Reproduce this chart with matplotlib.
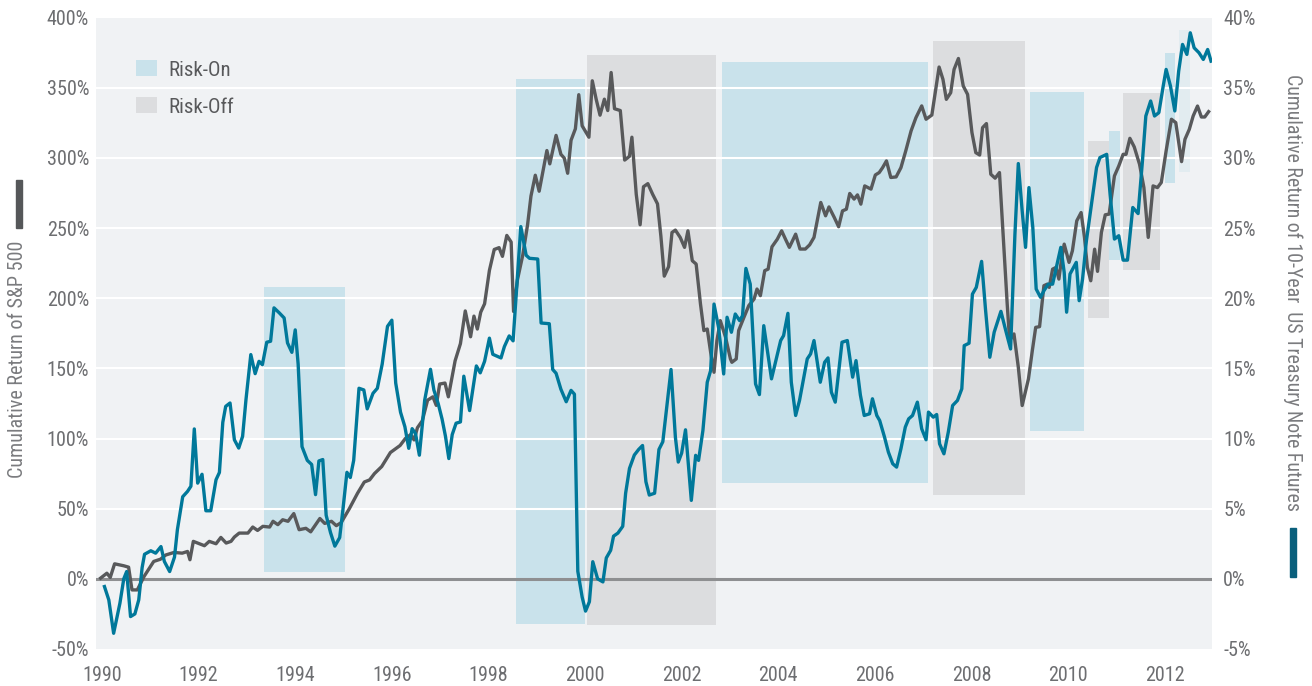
import matplotlib
matplotlib.use('Agg')
import matplotlib.pyplot as plt
import matplotlib.font_manager as fm
from matplotlib.patches import Patch, Rectangle

# S&P 500 cumulative return (left axis, %)
sp_years = [1989.97, 1990.10, 1990.17, 1990.26, 1990.45, 1990.55, 1990.62, 1990.73, 1990.87, 1991.07,
            1991.21, 1991.32, 1991.49, 1991.66, 1991.77, 1991.82, 1991.89, 1992.12, 1992.22, 1992.36,
            1992.46, 1992.57, 1992.67, 1992.74, 1992.84, 1993.02, 1993.12, 1993.22, 1993.33, 1993.47,
            1993.54, 1993.64, 1993.74, 1993.85, 1993.97, 1994.08, 1994.22, 1994.32, 1994.51, 1994.61,
            1994.75, 1994.85, 1994.95, 1995.12, 1995.29, 1995.43, 1995.54, 1995.64, 1995.79, 1995.97,
            1996.17, 1996.28, 1996.39, 1996.46, 1996.53, 1996.63, 1996.74, 1996.85, 1996.92, 1996.99,
            1997.10, 1997.17, 1997.31, 1997.42, 1997.52, 1997.63, 1997.70, 1997.77, 1997.84, 1997.92,
            1998.02, 1998.12, 1998.22, 1998.29, 1998.38, 1998.47, 1998.52, 1998.60, 1998.71, 1998.81,
            1998.88, 1998.97, 1999.05, 1999.12, 1999.21, 1999.27, 1999.40, 1999.50, 1999.57, 1999.64,
            1999.71, 1999.80, 1999.87, 1999.94, 2000.08, 2000.15, 2000.23, 2000.31, 2000.40, 2000.47,
            2000.54, 2000.61, 2000.73, 2000.82, 2000.92, 2000.97, 2001.06, 2001.14, 2001.21, 2001.30,
            2001.40, 2001.50, 2001.57, 2001.64, 2001.73, 2001.80, 2001.87, 2001.97, 2002.06, 2002.13,
            2002.22, 2002.30, 2002.39, 2002.46, 2002.53, 2002.60, 2002.67, 2002.73, 2002.80, 2002.91,
            2003.01, 2003.04, 2003.13, 2003.18, 2003.29, 2003.39, 2003.50, 2003.56, 2003.63, 2003.72,
            2003.79, 2003.87, 2003.98, 2004.07, 2004.15, 2004.23, 2004.36, 2004.45, 2004.56, 2004.65,
            2004.74, 2004.88, 2004.98, 2005.05, 2005.16, 2005.25, 2005.33, 2005.41, 2005.48, 2005.57,
            2005.64, 2005.71, 2005.79, 2005.92, 2006.01, 2006.09, 2006.16, 2006.24, 2006.33, 2006.44,
            2006.54, 2006.64, 2006.75, 2006.85, 2006.97, 2007.06, 2007.18, 2007.33, 2007.41, 2007.48,
            2007.57, 2007.64, 2007.73, 2007.83, 2007.92, 2008.01, 2008.09, 2008.17, 2008.23, 2008.31,
            2008.40, 2008.49, 2008.58, 2008.64, 2008.74, 2008.79, 2008.88, 2008.97, 2009.05, 2009.18,
            2009.26, 2009.33, 2009.41, 2009.50, 2009.57, 2009.61, 2009.68, 2009.75, 2009.81, 2009.86,
            2009.92, 2010.02, 2010.09, 2010.18, 2010.27, 2010.34, 2010.40, 2010.47, 2010.55, 2010.61,
            2010.69, 2010.77, 2010.85, 2010.96, 2011.05, 2011.14, 2011.20, 2011.28, 2011.37, 2011.48,
            2011.57, 2011.66, 2011.76, 2011.85, 2011.93, 2012.03, 2012.14, 2012.23, 2012.35, 2012.42,
            2012.51, 2012.59, 2012.68, 2012.76, 2012.83, 2012.91]
sp_values = [0.5, 4, 1, 10.7, 9.3, 8.3, -7.9, -7.9, 1.7, 12.4,
             14, 17, 18.8, 18.3, 19.5, 13.6, 26.7, 23.6, 26.7, 25,
             29.5, 25.5, 26.7, 29.8, 32.6, 32.6, 36.9, 34.5, 37.4, 36.9,
             41, 38.6, 42.1, 41, 46.5, 35, 36, 33.5, 43, 39.5,
             41, 37.9, 40, 50, 61, 69, 70.5, 75, 80, 90,
             95, 100, 102.8, 99, 107.7, 112.6, 127.3, 129.7, 123.6, 138.8,
             139.5, 129.7, 155.4, 167.6, 190.9, 172.5, 187.2, 178, 190, 196,
             219.8, 234.7, 236, 229.8, 244.7, 240, 190.5, 213, 230.6, 252.3,
             272.7, 287.6, 276.2, 289, 305.2, 295.7, 316, 302.5, 299.8, 289,
             312.5, 320.7, 345, 322.8, 314.7, 354.9, 341.8, 330.4, 341.8, 333.7,
             360.8, 335, 333.7, 298.4, 301.1, 314.7, 274, 252.3, 279.4, 281.6,
             274, 267.2, 244.2, 215.7, 222.5, 246.8, 248.5, 243.3, 236.2, 248,
             226.7, 224.3, 195.8, 176.9, 178, 161.5, 147.2, 169.8, 184, 172,
             156.7, 154.3, 156.7, 176.9, 186.4, 194.7, 199.4, 206.5, 201.8, 219.6,
             220.7, 236.6, 242, 248, 242, 236.2, 245.6, 235, 235, 238,
             243.3, 268.2, 258.7, 265, 257.5, 250.9, 262.2, 263.4, 274.6, 270.6,
             273.6, 267, 280, 277.7, 287.8, 289.5, 293, 297.8, 286, 286.4,
             293, 305, 319.2, 328.6, 337, 327.5, 330.5, 364.7, 355.9, 341.7,
             346.4, 363, 370.8, 351.2, 345.2, 318, 303.7, 302, 321.5, 324.4,
             288.3, 285.5, 289.5, 254, 195.8, 169.8, 174.5, 150.8, 123.5, 142.5,
             162.6, 179.2, 179.7, 208.9, 210, 207.7, 220.7, 221.9, 213.6, 226.7,
             238.5, 225.5, 233.8, 255.1, 261, 243.3, 221.9, 212.4, 234.9, 219.1,
             246.8, 259.4, 259.9, 287.1, 294.2, 302.5, 302.5, 313.9, 307.8, 295.4,
             278.8, 243.3, 280, 278.8, 282.4, 304.9, 327.5, 325.1, 297.3, 313.2,
             320.3, 329.8, 336.9, 329.1, 329.1, 332.9]

# 10-Year US Treasury note futures cumulative return (right axis, %)
tn_years = [1990.05, 1990.14, 1990.24, 1990.37, 1990.45, 1990.51, 1990.59, 1990.68, 1990.76, 1990.83,
            1990.88, 1991.01, 1991.11, 1991.22, 1991.29, 1991.40, 1991.50, 1991.56, 1991.67, 1991.77,
            1991.84, 1991.91, 1991.98, 1992.07, 1992.15, 1992.25, 1992.36, 1992.43, 1992.50, 1992.56,
            1992.65, 1992.74, 1992.83, 1992.91, 1992.98, 1993.08, 1993.17, 1993.25, 1993.32, 1993.41,
            1993.49, 1993.56, 1993.67, 1993.77, 1993.84, 1993.93, 1994.00, 1994.06, 1994.14, 1994.25,
            1994.34, 1994.42, 1994.49, 1994.57, 1994.64, 1994.73, 1994.82, 1994.92, 1994.99, 1995.07,
            1995.14, 1995.21, 1995.32, 1995.42, 1995.49, 1995.61, 1995.70, 1995.80, 1995.91, 1996.00,
            1996.08, 1996.18, 1996.27, 1996.35, 1996.42, 1996.49, 1996.57, 1996.68, 1996.80, 1996.87,
            1996.96, 1997.04, 1997.11, 1997.18, 1997.25, 1997.33, 1997.42, 1997.49, 1997.61, 1997.75,
            1997.83, 1997.92, 1998.02, 1998.09, 1998.26, 1998.33, 1998.43, 1998.51, 1998.67, 1998.78,
            1998.85, 1999.02, 1999.09, 1999.26, 1999.33, 1999.40, 1999.50, 1999.61, 1999.71, 1999.78,
            1999.85, 1999.94, 2000.01, 2000.09, 2000.16, 2000.26, 2000.37, 2000.44, 2000.53, 2000.59,
            2000.68, 2000.78, 2000.84, 2000.92, 2001.02, 2001.11, 2001.19, 2001.26, 2001.33, 2001.44,
            2001.53, 2001.61, 2001.78, 2001.87, 2001.93, 2002.00, 2002.08, 2002.20, 2002.29, 2002.35,
            2002.44, 2002.53, 2002.60, 2002.67, 2002.77, 2002.87, 2002.94, 2003.03, 2003.11, 2003.20,
            2003.26, 2003.33, 2003.42, 2003.53, 2003.61, 2003.70, 2003.86, 2004.05, 2004.11, 2004.20,
            2004.27, 2004.36, 2004.44, 2004.60, 2004.67, 2004.74, 2004.87, 2004.96, 2005.03, 2005.10,
            2005.18, 2005.32, 2005.43, 2005.54, 2005.61, 2005.70, 2005.78, 2005.89, 2005.95, 2006.04,
            2006.10, 2006.20, 2006.28, 2006.37, 2006.45, 2006.54, 2006.63, 2006.70, 2006.78, 2006.88,
            2006.97, 2007.06, 2007.11, 2007.21, 2007.28, 2007.34, 2007.43, 2007.52, 2007.61, 2007.71,
            2007.80, 2007.85, 2007.95, 2008.02, 2008.10, 2008.21, 2008.29, 2008.38, 2008.47, 2008.61,
            2008.71, 2008.81, 2008.90, 2008.97, 2009.05, 2009.12, 2009.19, 2009.27, 2009.34, 2009.43,
            2009.50, 2009.59, 2009.68, 2009.75, 2009.85, 2009.92, 2009.97, 2010.04, 2010.17, 2010.23,
            2010.30, 2010.38, 2010.47, 2010.59, 2010.66, 2010.80, 2010.87, 2010.96, 2011.05, 2011.14,
            2011.23, 2011.34, 2011.45, 2011.54, 2011.61, 2011.71, 2011.79, 2011.88, 2011.97, 2012.03,
            2012.12, 2012.21, 2012.29, 2012.37, 2012.46, 2012.53, 2012.61, 2012.71, 2012.80, 2012.89,
            2012.96]
tn_values = [-0.55, -1.5, -3.88, -1.74, 0.0, 0.52, -2.69, -2.5, -1.5, 0.8,
             1.75, 2.0, 1.83, 2.3, 1.24, 0.52, 1.55, 3.5, 5.85, 6.23,
             6.6, 10.68, 6.82, 7.45, 4.85, 4.85, 7.06, 7.58, 11.15, 12.29,
             12.53, 9.91, 9.32, 10.15, 12.77, 15.98, 14.62, 15.5, 15.26, 16.86,
             16.93, 19.31, 18.95, 18.59, 16.81, 16.14, 17.74, 15.3, 9.42, 8.44,
             8.15, 6.0, 8.4, 8.5, 4.53, 3.3, 2.33, 2.94, 5.02, 7.59,
             7.22, 8.44, 13.58, 13.46, 12.11, 13.22, 13.58, 15.3, 17.99, 18.43,
             13.95, 11.87, 10.84, 9.3, 10.7, 10.35, 8.81, 12.73, 14.93, 13.46,
             12.48, 11.38, 10.16, 8.57, 10.28, 11.09, 11.18, 14.44, 11.99, 15.17,
             14.68, 15.5, 17.15, 16.0, 15.74, 16.55, 17.31, 16.96, 25.1, 23.06,
             22.84, 22.79, 18.23, 18.18, 14.92, 14.65, 13.51, 12.62, 13.43, 13.16,
             0.54, -1.3, -2.3, -1.63, 1.22, 0.0, -0.22, 1.49, 2.03, 3.04,
             3.26, 3.74, 6.1, 7.87, 8.82, 9.22, 9.5, 6.92, 5.97, 6.1,
             9.22, 9.77, 14.92, 10.1, 8.32, 8.96, 10.62, 5.59, 8.8, 8.44,
             10.57, 14.01, 14.84, 19.58, 17.8, 14.6, 18.64, 17.57, 18.87, 18.4,
             18.75, 22.12, 21.0, 13.89, 13.13, 18.04, 14.25, 16.98, 17.33, 18.92,
             14.01, 11.64, 12.71, 15.67, 16.03, 16.98, 14.01, 15.43, 15.74, 13.3,
             12.59, 16.86, 16.98, 14.37, 15.55, 13.1, 11.64, 11.76, 12.83, 11.64,
             11.28, 10.1, 9.03, 8.2, 7.96, 9.27, 10.81, 11.4, 11.64, 12.59,
             10.69, 9.91, 11.88, 11.52, 11.71, 9.62, 8.91, 10.45, 12.35, 12.71,
             13.54, 16.62, 16.79, 20.29, 20.77, 22.62, 19.23, 15.79, 17.57, 19.06,
             17.69, 16.38, 24.56, 29.59, 26.22, 23.62, 27.88, 25.04, 20.65, 20.06,
             20.53, 21.0, 21.0, 22.07, 23.62, 21.84, 19.0, 21.72, 22.55, 19.82,
             21.36, 24.09, 26.34, 29.31, 30.02, 30.25, 27.41, 24.21, 24.45, 22.71,
             22.71, 26.46, 26.03, 29.78, 32.98, 34.05, 32.98, 33.22, 35.12, 36.3,
             35.12, 33.34, 36.18, 38.08, 37.37, 38.91, 37.84, 37.49, 37.01, 37.72,
             36.89]

# regimes: start, end, low, high (left axis units)
on_start = [1993.35, 1998.57, 2002.84, 2009.21, 2010.84, 2012.01]
on_end = [1995.04, 2000.00, 2007.09, 2010.34, 2011.08, 2012.22]
on_low = [5, -32, 68, 105, 227, 282]
on_high = [208, 356, 368, 347, 319, 375]
off_start = [2000.04, 2007.20, 2010.41, 2011.14]
off_end = [2002.72, 2009.10, 2010.84, 2011.90]
off_low = [-33, 60, 186, 220]
off_high = [373, 383, 312, 346]
faint_start, faint_end, faint_low, faint_high = 2012.30, 2012.53, 290, 391

x_ticks = [1990, 1992, 1994, 1996, 1998, 2000, 2002, 2004, 2006, 2008, 2010, 2012]
left_ticks = [-50, 0, 50, 100, 150, 200, 250, 300, 350, 400]
right_ticks = [-5, 0, 5, 10, 15, 20, 25, 30, 35, 40]

ON_COL = '#c9e2eb'
OFF_COL = '#dcdddf'
SP_COL = '#58595b'
TN_COL = '#00789a'
TXT = '#6d6e71'

installed = {f.name for f in fm.fontManager.ttflist}
font = next((f for f in ['Liberation Sans Narrow', 'Roboto Condensed', 'Roboto'] if f in installed), 'DejaVu Sans')
plt.rcParams['font.family'] = [font, 'DejaVu Sans']

W, H = 1312, 686
fig = plt.figure(figsize=(W / 100, H / 100), dpi=100)
ax = fig.add_axes([96 / W, 37 / H, 1116 / W, 631.5 / H])
ax.set_facecolor('#f0f2f4')
for s in ax.spines.values():
    s.set_visible(False)

for x0, x1, lo, hi in zip(on_start, on_end, on_low, on_high):
    ax.bar(x0, hi - lo, width=x1 - x0, bottom=lo, align='edge', color=ON_COL, linewidth=0, zorder=1)
for x0, x1, lo, hi in zip(off_start, off_end, off_low, off_high):
    ax.bar(x0, hi - lo, width=x1 - x0, bottom=lo, align='edge', color=OFF_COL, linewidth=0, zorder=1)
ax.bar(faint_start, faint_high - faint_low, width=faint_end - faint_start, bottom=faint_low,
       align='edge', color=ON_COL, alpha=0.35, linewidth=0, zorder=1)

for v in left_ticks[1:-1]:
    if v == 0:
        ax.axhline(v, color='#8e8f91', lw=2.2, zorder=2)
    else:
        ax.axhline(v, color='white', lw=1.5, zorder=2)

ax.plot(sp_years, sp_values, color=SP_COL, lw=2.4, zorder=3)

ax2 = ax.twinx()
for s in ax2.spines.values():
    s.set_visible(False)
ax2.plot(tn_years, tn_values, color=TN_COL, lw=2.4)

ax.set_xlim(1989.875, 2012.98)
ax.set_ylim(-50, 400)
ax2.set_ylim(-5, 40)
ax.set_xticks(x_ticks)
ax.set_xticklabels([str(y) for y in x_ticks])
ax.set_yticks(left_ticks)
ax.set_yticklabels(['{}%'.format(v) for v in left_ticks])
ax2.set_yticks(right_ticks)
ax2.set_yticklabels(['{}%'.format(v) for v in right_ticks])
ax.tick_params(axis='both', length=0, labelsize=14.5, colors=TXT)
ax.tick_params(axis='y', pad=5)
ax.tick_params(axis='x', pad=12)
ax2.tick_params(axis='y', length=0, labelsize=14.5, colors=TXT, pad=8)

handles = [Patch(facecolor=ON_COL, label='Risk-On'), Patch(facecolor=OFF_COL, label='Risk-Off')]
leg = ax.legend(handles=handles, loc='upper left', bbox_to_anchor=(0.036, 0.932), frameon=False,
                fontsize=15, handlelength=1.0, handleheight=0.8, handletextpad=0.55,
                labelspacing=0.85, borderaxespad=0, borderpad=0)
for t in leg.get_texts():
    t.set_color(SP_COL)

fig.text(18 / W, 1 - 359 / H, 'Cumulative Return of S&P 500', rotation=90,
         ha='center', va='center', fontsize=14.5, color='#7a7b7e')
fig.add_artist(Rectangle((16 / W, 1 - 228 / H), 6 / W, 48 / H, transform=fig.transFigure,
                         color='#555759'))
fig.text(1293 / W, 1 - 292 / H, 'Cumulative Return of 10-Year  US Treasury Note Futures',
         rotation=270, ha='center', va='center', fontsize=14.3, color='#7a7b7e')
fig.add_artist(Rectangle((1290 / W, 1 - 577 / H), 6 / W, 49 / H, transform=fig.transFigure,
                         color='#0a5f7c'))

fig.savefig('out.png', dpi=100, facecolor='white')
